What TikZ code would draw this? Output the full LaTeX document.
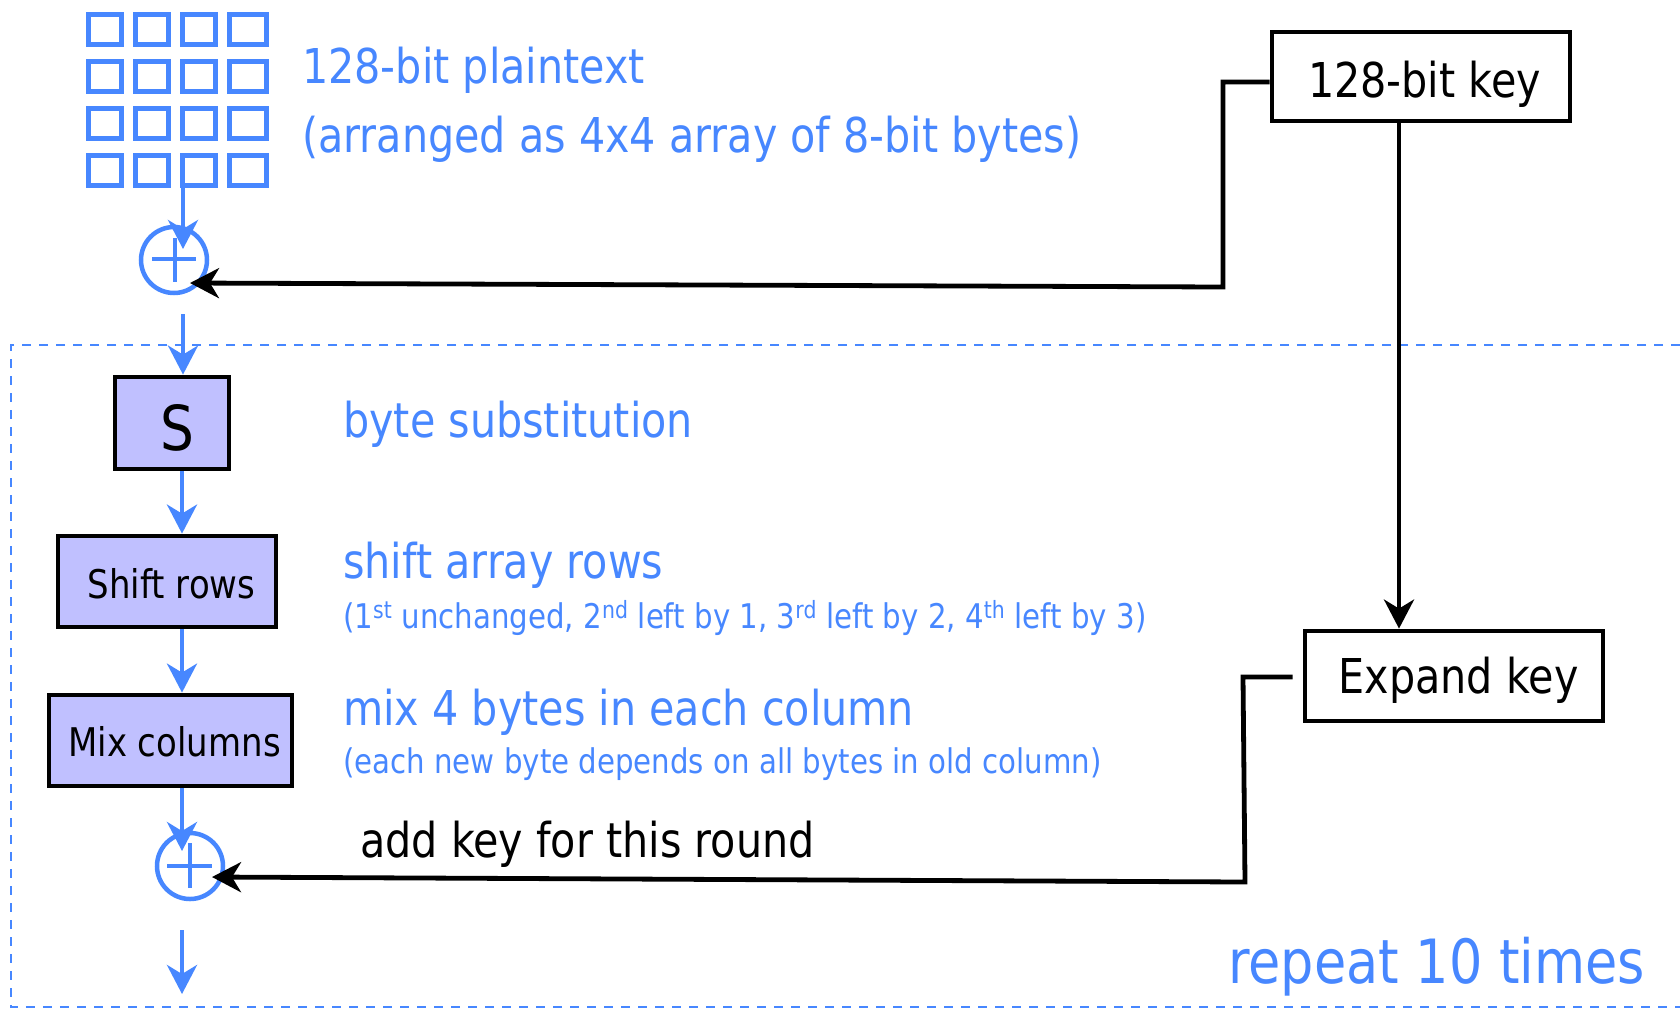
\documentclass[tikz,border=0pt]{standalone}
\usepackage{fontspec}
\setmainfont{DejaVu Sans}[FakeStretch=0.86]
\usetikzlibrary{arrows.meta,calc}
\definecolor{myblue}{HTML}{4787FF}
\definecolor{lav}{HTML}{C0C0FF}
\begin{document}
\begin{tikzpicture}[x=1pt,y=-1pt,
  fbig/.style={font=\fontsize{48}{56}\selectfont},
  fsmall/.style={font=\fontsize{34}{40}\selectfont},
  fbox/.style={font=\fontsize{39.5}{46}\selectfont},
  btxt/.style={text=myblue, anchor=base west, inner sep=0pt},
  ktxt/.style={text=black, anchor=base, inner sep=0pt},
  cell/.style={draw=myblue, line width=5pt, minimum height=30pt, inner sep=0pt},
  stepbox/.style={draw=black, line width=4.8pt, fill=lav, inner sep=0pt},
  keybox/.style={draw=black, line width=4.8pt, fill=white, inner sep=0pt, minimum width=298pt, minimum height=89pt},
  xorc/.style={draw=myblue, line width=4.5pt, circle, minimum size=66pt, inner sep=0pt},
  xorplus/.style={draw=myblue, line width=4.5pt},
  barrow/.style={draw=myblue, line width=4.5pt, -{Stealth[length=29pt,width=30pt,inset=9pt]}},
  karrow/.style={draw=black, line width=4.8pt, line join=miter, -{Stealth[length=29pt,width=30pt,inset=9pt]}},
  roundbox/.style={draw=myblue, line width=2.5pt, dash pattern=on 9pt off 8pt}
]
\useasboundingbox (0,0) rectangle (1680,1013);

% repeated round region
\draw[roundbox] (1680,345) -- (11,345) -- (11,1007) -- (1680,1007);

% plaintext grid
\foreach \c/\cx/\w in {1/104.5/33,2/151.5/33,3/199/33,4/248/37}{
  \foreach \r/\ry in {1/29,2/76.5,3/123,4/170.5}{
    \node[cell, minimum width=\w pt] (c\r\c) at (\cx,\ry) {};
  }
}
\coordinate (gridout) at (183,188);
\coordinate (spine) at (182,0);

% texts
\node[btxt, fbig] (ptxt1) at (302,83) {128-bit plaintext};
\node[btxt, fbig] (ptxt2) at (302,152) {(arranged as 4x4 array of 8-bit bytes)};
\node[btxt, fbig] (t1) at (343,437) {byte substitution};
\node[btxt, fbig] (t2) at (343,578) {shift array rows};
\node[btxt, fsmall] (t2b) at (343,628) {(1\textsuperscript{st} unchanged, 2\textsuperscript{nd} left by 1, 3\textsuperscript{rd} left by 2, 4\textsuperscript{th} left by 3)};
\node[btxt, fbig] (t3) at (343,725) {mix 4 bytes in each column};
\node[btxt, fsmall] (t3b) at (343,773) {(each new byte depends on all bytes in old column)};
\node[anchor=base west, inner sep=0pt, fbig] (t4) at (360,857) {add key for this round};
\node[btxt, font=\fontsize{61}{70}\selectfont] (t5) at (1228,983) {repeat 10 times};

% xor 1
\node[xorc] (x1) at (174,260) {};
\draw[xorplus] ($(x1.center)+(-22,-1)$) -- ($(x1.center)+(22,-1)$);
\draw[xorplus] ($(x1.center)+(1,-22)$) -- ($(x1.center)+(1,22)$);
\coordinate (x1in) at (183,249);
\coordinate (x1k) at (190,283);
\coordinate (x1out) at (183,314);

% step boxes
\node[stepbox, minimum width=114pt, minimum height=92pt] (S) at (172,423) {};
\node[font=\fontsize{62}{70}\selectfont, anchor=base, inner sep=0pt] (Stxt) at (177,450) {S};
\node[stepbox, minimum width=218pt, minimum height=91pt] (sr) at (167,581.5) {};
\node[fbox, anchor=base, inner sep=0pt] (srtxt) at (171.5,598) {Shift rows};
\node[stepbox, minimum width=243pt, minimum height=91pt] (mc) at (170.5,740.5) {};
\node[fbox, anchor=base, inner sep=0pt] (mctxt) at (174.5,756) {Mix columns};

% xor 2
\node[xorc] (x2) at (190,866) {};
\draw[xorplus] ($(x2.center)+(-23,0)$) -- ($(x2.center)+(22,0)$);
\draw[xorplus] ($(x2.center)+(0,-23)$) -- ($(x2.center)+(0,22)$);
\coordinate (x2in) at (182,851);
\coordinate (x2k) at (212,877);
\coordinate (outA) at (182,930);
\coordinate (outB) at (182,994);

% key boxes
\node[keybox] (key) at (1421,76.5) {};
\node[ktxt, fbig] (keytxt) at (1424.5,97) {128-bit key};
\node[keybox, minimum height=90pt] (ek) at (1454,676) {};
\node[ktxt, fbig] (ektxt) at (1458.5,693) {Expand key};

% blue flow arrows
\draw[barrow] (gridout) -- (x1in);
\draw[barrow] (x1out) -- (x1out |- S.north);
\draw[barrow] (spine |- S.south) -- (spine |- sr.north);
\draw[barrow] (spine |- sr.south) -- (spine |- mc.north);
\draw[barrow] (spine |- mc.south) -- (x2in);
\draw[barrow] (outA) -- (outB);

% black key arrows
\draw[karrow] ($(key.west)+(0,5.5)$) -- (1223,82) -- (1223,287) -- (x1k);
\draw[karrow] (key.south -| 1399,0) -- (ek.north -| 1399,0);
\draw[karrow] ($(ek.west)+(-10,1)$) -- (1243,677) -- (1245,882) -- (x2k);
\end{tikzpicture}
\end{document}
